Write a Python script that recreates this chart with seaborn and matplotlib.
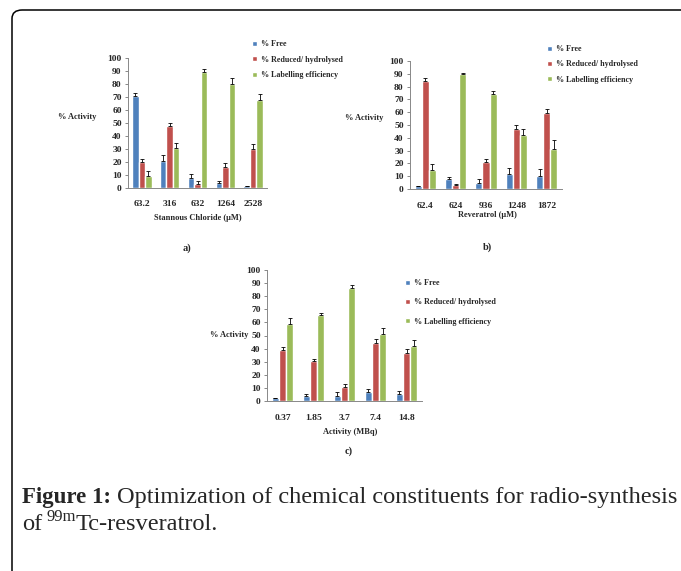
import matplotlib
matplotlib.use("Agg")
import matplotlib.pyplot as plt
import seaborn as sns
import pandas as pd
import numpy as np
from matplotlib.patches import FancyBboxPatch

series = ["% Free", "% Reduced/ hydrolysed", "% Labelling efficiency"]
colors = ["#4F81BD", "#C0504D", "#9BBB59"]

a_cats = ["63.2", "316", "632", "1264", "2528"]
a_free = [71, 21, 8, 4, 1.5]
a_red = [20, 47.5, 3, 16, 30]
a_lab = [9, 31, 89, 80, 68]
a_free_err = [2, 4.5, 3, 1.5, 0]
a_red_err = [2, 2.5, 2.5, 3.5, 3.5]
a_lab_err = [4, 4, 2.5, 4.5, 4]

b_cats = ["62.4", "624", "936", "1248", "1872"]
b_free = [2, 8, 5, 12, 10]
b_red = [84, 3, 21, 47, 59]
b_lab = [15, 90, 74, 42, 31]
b_free_err = [0, 1.5, 2.5, 4.5, 5.5]
b_red_err = [2.5, 1, 2.5, 3, 3.5]
b_lab_err = [4.5, 1, 2.5, 4.5, 7]

c_cats = ["0.37", "1.85", "3.7", "7.4", "14.8"]
c_free = [2.5, 4, 4, 7, 5.5]
c_red = [39, 30.5, 10.5, 44.5, 37]
c_lab = [59, 66, 86, 51.5, 42]
c_free_err = [0, 1.5, 2.5, 2.5, 2.5]
c_red_err = [2.5, 1.5, 2.5, 3, 3]
c_lab_err = [4.5, 1, 2.5, 4.5, 4.5]

W, H = 681, 571
sns.set_theme(style="white")
plt.rcParams['font.family'] = ['Liberation Serif', 'DejaVu Serif']
fig = plt.figure(figsize=(W / 100, H / 100), dpi=100)

def fx(px):
    return px / W

def fy(py):
    return 1 - py / H

# frame
frame = FancyBboxPatch((fx(12), fy(600)), fx(700), fy(10) - fy(600),
                       boxstyle="round,pad=0,rounding_size=0.015",
                       transform=fig.transFigure, fill=False,
                       edgecolor="black", linewidth=1.1, clip_on=False)
fig.patches.append(frame)

tick_fs = 6.8

def panel(rect, cats, vals, errs, xlabel, xlab_pos, ylab_pos, leg_pos, leg_spacing, plabel, plabel_pos):
    ax = fig.add_axes(rect)
    rows = []
    for s, v in zip(series, vals):
        for c, val in zip(cats, v):
            rows.append({"cat": c, "series": s, "value": val})
    df = pd.DataFrame(rows)
    sns.barplot(data=df, x="cat", y="value", hue="series", order=cats,
                hue_order=series, palette=colors, width=0.7,
                errorbar=None, ax=ax, saturation=1, legend=True)
    n = len(cats)
    for i, s in enumerate(series):
        cont = ax.containers[i]
        xs = [p.get_x() + p.get_width() / 2 for p in cont.patches]
        ys = [p.get_height() for p in cont.patches]
        e = errs[i]
        ax.errorbar(xs, ys, yerr=[np.zeros(n), e], fmt="none", ecolor="black",
                    elinewidth=0.6, capsize=1.6, capthick=0.6)
    ax.set_ylim(0, 100)
    ax.set_yticks(range(0, 101, 10))
    ax.set_xlim(-0.5, n - 0.5)
    ax.set_xlabel("")
    ax.set_ylabel("")
    for sp in ["top", "right"]:
        ax.spines[sp].set_visible(False)
    for sp in ["left", "bottom"]:
        ax.spines[sp].set_color("#888888")
        ax.spines[sp].set_linewidth(0.7)
    ax.tick_params(axis="x", which="major", length=0, pad=9, labelsize=tick_fs)
    ax.set_xticks(np.arange(-0.5, n, 1.0), minor=True)
    ax.tick_params(axis="x", which="minor", length=3, color="#888888", width=0.7, direction="out")
    ax.tick_params(axis="y", length=2.5, color="#888888", width=0.7, pad=2, labelsize=tick_fs, left=True, direction="out")
    for t in ax.get_xticklabels() + ax.get_yticklabels():
        t.set_fontweight("bold")
    handles, labels = ax.get_legend_handles_labels()
    ax.legend(handles, labels, loc="upper left", bbox_to_anchor=(fx(leg_pos[0]), fy(leg_pos[1])),
              bbox_transform=fig.transFigure, frameon=False,
              prop={"size": 5.8, "weight": "bold"},
              handlelength=0.6, handleheight=0.6, handletextpad=0.5,
              labelspacing=leg_spacing, borderaxespad=0, borderpad=0)
    fig.text(fx(xlab_pos[0]), fy(xlab_pos[1]), xlabel, ha="center", va="center",
             fontsize=6.0, fontweight="bold")
    fig.text(fx(ylab_pos[0]), fy(ylab_pos[1]), "% Activity", ha="left", va="center",
             fontsize=6.0, fontweight="bold")
    fig.text(fx(plabel_pos[0]), fy(plabel_pos[1]), plabel, ha="center", va="center",
             fontsize=7.5, fontweight="bold")
    return ax

def rect(l, r, t, b):
    return [fx(l), fy(b), fx(r) - fx(l), fy(t) - fy(b)]

panel(rect(128, 267, 58, 188), a_cats, [a_free, a_red, a_lab],
      [a_free_err, a_red_err, a_lab_err], "Stannous Chloride (µM)",
      (198, 218), (58, 117), (252, 40), 0.95, "a)", (187, 248))
panel(rect(410, 562, 61, 189), b_cats, [b_free, b_red, b_lab],
      [b_free_err, b_red_err, b_lab_err], "Reveratrol (µM)",
      (487, 215), (345, 118), (547, 45), 0.9, "b)", (487, 247))
panel(rect(267, 422, 270, 401), c_cats, [c_free, c_red, c_lab],
      [c_free_err, c_red_err, c_lab_err], "Activity (MBq)",
      (350, 432), (210, 335), (405, 279), 1.4, "c)", (349, 451))

# caption
bold_fs = 16.5
cap_fs = 17.6
fig.canvas.draw()
r = fig.canvas.get_renderer()
t1 = fig.text(fx(22), fy(497), "Figure 1:", ha="left", va="center", fontsize=bold_fs,
              fontweight="bold")
bb = t1.get_window_extent(renderer=r)
fig.text(bb.x1 / W + fx(6), fy(497), "Optimization of chemical constituents for radio-synthesis",
         ha="left", va="center", fontsize=cap_fs)
t3 = fig.text(fx(22), fy(524), "of", ha="left", va="center", fontsize=cap_fs)
bb3 = t3.get_window_extent(renderer=r)
t4 = fig.text(bb3.x1 / W + fx(4), fy(517), "99m", ha="left", va="center", fontsize=cap_fs * 0.68)
bb4 = t4.get_window_extent(renderer=r)
fig.text(bb4.x1 / W, fy(524), "Tc-resveratrol.", ha="left", va="center", fontsize=cap_fs)

fig.savefig("out.png", dpi=100)
